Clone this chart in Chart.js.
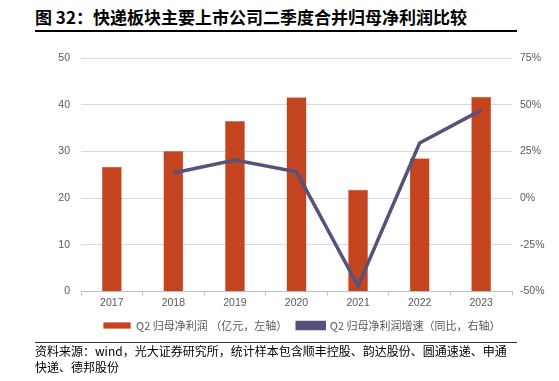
<!DOCTYPE html>
<html><head><meta charset="utf-8">
<script src="https://cdn.jsdelivr.net/npm/chart.js@4/dist/chart.umd.min.js"></script>
<style>
html,body{margin:0;padding:0;background:#fff;width:559px;height:381px;overflow:hidden;position:relative;font-family:"Noto Sans CJK SC","Noto Sans",sans-serif;}
#title{position:absolute;left:35px;top:4px;font-size:17px;font-weight:bold;color:#000;white-space:nowrap;letter-spacing:0px;}
#rule1{position:absolute;left:35px;top:30px;width:482px;height:1.5px;background:#000;}
#rule2{position:absolute;left:35px;top:342px;width:482px;height:1px;background:#333;}
#src{position:absolute;left:35px;top:343px;width:490px;font-size:12px;line-height:16px;color:#000;}
#wrap{position:absolute;left:45px;top:40px;width:514px;height:303px;}
</style></head><body>
<div id="title">图 32：快递板块主要上市公司二季度合并归母净利润比较</div>
<div id="rule1"></div>
<div id="wrap"><canvas id="c"></canvas></div>
<div id="rule2"></div>
<div id="src">资料来源：wind，光大证券研究所，统计样本包含顺丰控股、韵达股份、圆通速递、申通<br>快递、德邦股份</div>
<script>
const categories = ['2017','2018','2019','2020','2021','2022','2023'];
const profit = [26.7, 30.1, 36.5, 41.6, 21.8, 28.5, 41.7];
const growth = [null, 13.4, 20.3, 14.0, -47.1, 29.5, 47.1];
const barLabel = 'Q2 归母净利润 （亿元，左轴）';
const lineLabel = 'Q2 归母净利润增速（同比，右轴）';

const tickFont = {family:'"Liberation Sans", Arial, sans-serif', size:10.5};
new Chart(document.getElementById('c'), {
  type:'bar',
  data:{
    labels:categories,
    datasets:[
      {type:'line', label:lineLabel, data:growth, yAxisID:'y1', borderColor:'#56527a', backgroundColor:'#56527a', borderWidth:3.5, pointRadius:0, tension:0, order:0},
      {type:'bar', label:barLabel, data:profit, yAxisID:'y', backgroundColor:'#c4441f', borderColor:'#d8735e', borderWidth:0.5, categoryPercentage:1, barPercentage:0.325, order:1}
    ]
  },
  options:{
    responsive:true, maintainAspectRatio:false, animation:false,
    layout:{padding:{top:18,left:0,right:0,bottom:2}},
    plugins:{
      legend:{position:'bottom', reverse:true,
        labels:{boxWidth:27, boxHeight:6, padding:10, color:'#595959',
          font:{family:'"Noto Sans CJK SC", sans-serif', size:11}}},
      tooltip:{enabled:false}
    },
    scales:{
      x:{grid:{display:true, drawOnChartArea:false, drawTicks:true, tickLength:4, color:'#bfbfbf', offset:true},
         border:{color:'#bfbfbf'},
         ticks:{color:'#595959', font:tickFont, padding:1}},
      y:{position:'left', min:0, max:50, ticks:{stepSize:10, color:'#595959', font:tickFont, padding:11},
         grid:{color:'#d9d9d9', drawTicks:false}, border:{display:false},
         afterFit(s){s.width=36;}},
      y1:{position:'right', min:-50, max:75, ticks:{stepSize:25, color:'#595959', font:tickFont, padding:8, callback:v=>v+'%'},
         grid:{drawOnChartArea:false, drawTicks:false}, border:{display:false},
         afterFit(s){s.width=47;}}
    }
  }
});
</script>
</body></html>
